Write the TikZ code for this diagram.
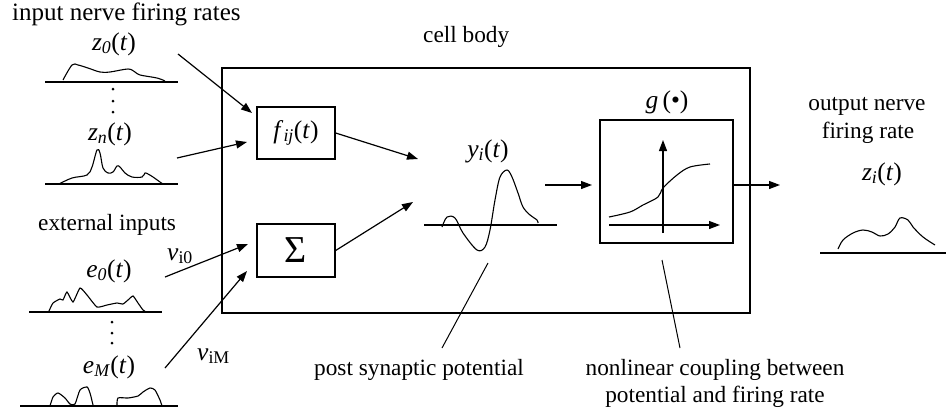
\documentclass[tikz,border=0pt]{standalone}
\usepackage{fontspec}
\setmainfont{Liberation Serif}
\usetikzlibrary{arrows.meta}
\newcommand\lblfont{\fontsize{23.3}{27.5}\selectfont}
\newcommand\titlefont{\fontsize{25}{30}\selectfont}
\newcommand\varfont{\fontsize{25.5}{30}\selectfont}
\newcommand\sumfont{\fontsize{38}{40}\selectfont}
% italic variable with italic subscript, as a function of t
\newcommand\ivar[2]{\textit{#1}\textsubscript{\textit{#2}}(\textit{t})}
\begin{document}
\begin{tikzpicture}[x=1pt,y=-1pt,
  wire/.style={line width=1.2pt},
  conn/.style={line width=1.2pt,-{Triangle[length=11pt,width=8pt]}},
  frame/.style={draw,line width=1.3pt,inner sep=0pt},
  lbl/.style={font=\lblfont,inner sep=0pt},
  vlbl/.style={font=\varfont,inner sep=0pt},
  trace/.style={line width=1.1pt,smooth,tension=0.55},
  pointer/.style={line width=1pt},
  dot/.style={circle,fill,inner sep=0pt,minimum size=3pt}]
\useasboundingbox (0,0) rectangle (946,413);

% ---- boxes ----
\node[frame,minimum width=528pt,minimum height=245pt] (cell) at (486,190.5) {};
\node[frame,vlbl,minimum width=78pt,minimum height=52pt] (f) at (296,133) {\ivar{f}{ij}};
\node[frame,font=\sumfont,minimum width=78pt,minimum height=53pt] (sum) at (296,250.5) {Σ};
\node[frame,minimum width=133pt,minimum height=123pt] (g) at (666.5,181.5) {};

% ---- text labels ----
\node[inner sep=0pt,font=\titlefont,anchor=base west] (title) at (12,20) {input nerve firing rates};
\node[lbl,anchor=base west] (cellname) at (423,42) {cell body};
\node[vlbl,anchor=base] (z0) at (114,50) {\ivar{z}{0}};
\node[vlbl,anchor=base] (zn) at (110,140) {\ivar{z}{n}};
\node[lbl,anchor=base west] (ext) at (38,230) {external inputs};
\node[vlbl,anchor=base] (e0) at (109,277) {\ivar{e}{0}};
\node[vlbl,anchor=base] (eM) at (109,373) {\ivar{e}{M}};
\node[vlbl,anchor=base west] (vi0) at (167,260) {\textit{v}\textsubscript{i0}};
\node[vlbl,anchor=base west] (viM) at (197,360) {\textit{v}\textsubscript{iM}};
\node[vlbl,anchor=base] (yi) at (488,157) {\ivar{y}{i}};
\node[vlbl,anchor=base] (gname) at (667,108) {\textit{g}\,(•)};
\node[lbl,anchor=base] (out1) at (867,110) {output nerve};
\node[lbl,anchor=base] (out2) at (868,138) {firing rate};
\node[vlbl,anchor=base] (zi) at (882,180) {\ivar{z}{i}};
\node[lbl,anchor=base] (psp) at (419,375) {post synaptic potential};
\node[lbl,anchor=base] (nl1) at (715,375) {nonlinear coupling between};
\node[lbl,anchor=base] (nl2) at (715,402) {potential and firing rate};

% ---- input traces ----
\draw[wire] (45,82) -- (178,82);
\draw[trace] plot coordinates {(63,80) (72,65) (78,65) (88,68) (100,72) (110,72) (128,69) (135,72) (140,75) (157,78) (165,81)};
\node[dot] (zd1) at (113,89) {};
\node[dot] (zd2) at (113,101) {};
\node[dot] (zd3) at (113,112) {};
\draw[wire] (45,184) -- (178,184);
\draw[trace] plot coordinates {(59,184) (72,178) (87,175) (92,167) (97,150) (100,153) (103,168) (108,173) (113,172) (117,166) (120,167) (125,173) (132,177) (142,177) (145,173) (148,174) (153,177) (160,182) (163,184)};

\draw[wire] (29,312) -- (162,312);
\draw[trace,tension=0.3] plot coordinates {(49,311) (53,303) (60,299) (63,300) (67,292) (73,302) (80,288) (87,295) (97,307) (107,305) (117,303) (123,304) (128,300) (133,296) (138,303) (143,310) (145,311)};
\node[dot] (ed1) at (112,322) {};
\node[dot] (ed2) at (112,333) {};
\node[dot] (ed3) at (112,343) {};
\draw[wire] (20,406) -- (178,406);
\draw[trace,tension=0.4] plot coordinates {(50,406) (53,397) (58,393) (65,398) (70,404) (75,404) (80,390) (87,387) (90,393) (93,405)};
\draw[trace,tension=0.4] plot coordinates {(117,406) (118,398) (128,398) (138,396) (143,392) (150,388) (155,390) (160,400) (162,406)};

% ---- post synaptic potential ----
\draw[wire] (424,225) -- (557,225);
\draw[trace] plot coordinates {(442,227) (447,217) (455,218) (463,233) (477,250) (485,247) (490,230) (495,200) (500,177) (507,170) (512,177) (518,193) (523,207) (530,215) (537,220) (538,223)};

% ---- output trace ----
\draw[wire] (820,253) -- (946,253);
\draw[trace] plot coordinates {(838,249) (843,240) (853,233) (863,230) (872,232) (880,236) (888,234) (895,227) (900,218) (908,220) (913,227) (923,237) (935,245)};

% ---- sigmoid inside g ----
\coordinate (gy0) at (663,233);
\coordinate (gy1) at (663,140);
\coordinate (gx0) at (609,225);
\coordinate (gx1) at (720,225);
\draw[conn] (gy0) -- (gy1);
\draw[conn] (gx0) -- (gx1);
\draw[trace] plot coordinates {(609,217) (630,212) (643,205) (658,197) (663,188) (677,175) (690,167) (710,164)};

% ---- connectors ----
\coordinate (s1) at (178,54);   \coordinate (t1) at (252,113);
\coordinate (s2) at (177,158);  \coordinate (t2) at (247,142);
\coordinate (s3) at (165,277);  \coordinate (t3) at (248,244);
\coordinate (s4) at (165,368);  \coordinate (t4) at (247,271);
\coordinate (t5) at (418,159);
\coordinate (t6) at (413,202);
\coordinate (s7) at (545,185);  \coordinate (t7) at (592,185);
\coordinate (t8) at (780,185);
\draw[conn] (s1) -- (t1);
\draw[conn] (s2) -- (t2);
\draw[conn] (s3) -- (t3);
\draw[conn] (s4) -- (t4);
\draw[conn] (f.east) -- (t5);
\draw[conn] (sum.east) -- (t6);
\draw[conn] (s7) -- (t7);
\draw[conn] (g.east |- t8) -- (t8);

% ---- annotation pointers ----
\coordinate (p1) at (488,263);  \coordinate (q1) at (442,348);
\coordinate (p2) at (662,260);  \coordinate (q2) at (680,348);
\draw[pointer] (p1) -- (q1);
\draw[pointer] (p2) -- (q2);
\end{tikzpicture}
\end{document}
